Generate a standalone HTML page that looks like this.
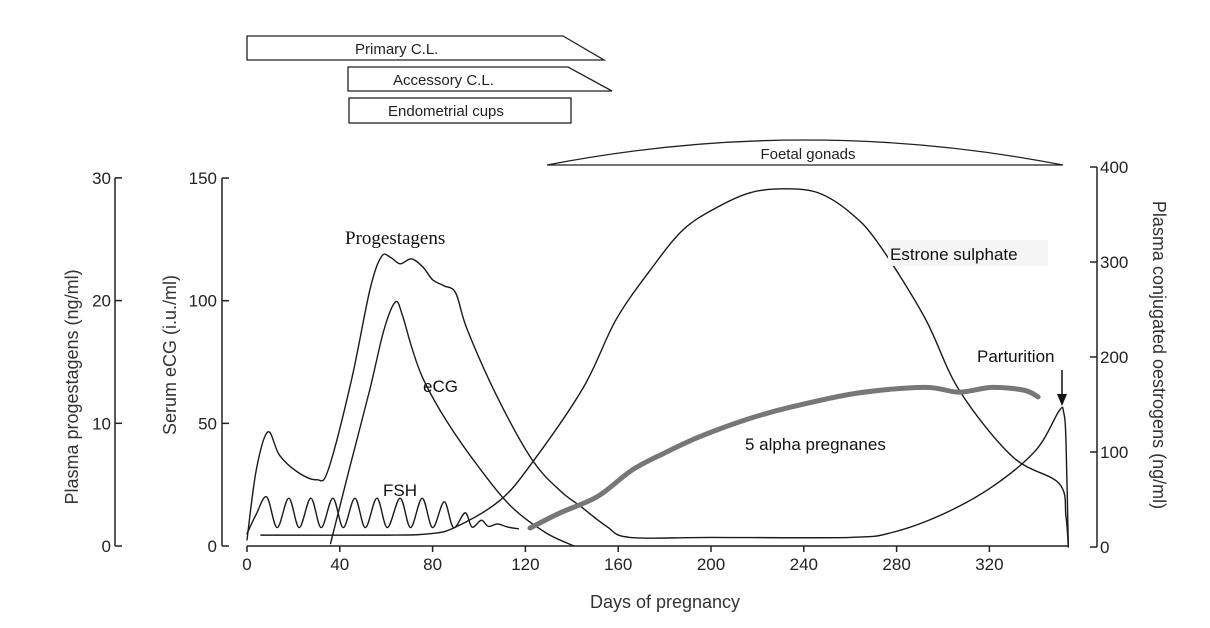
<!DOCTYPE html>
<html><head><meta charset="utf-8"><style>
html,body{margin:0;padding:0;background:#fff;}
svg{display:block;font-family:"Liberation Sans",sans-serif;}
</style></head><body>
<svg id="chart" width="1210" height="628" viewBox="0 0 1210 628">
<g fill="none" stroke="#222" stroke-width="1.3">
<polygon points="247,36 563,36 604,60 247,60"/>
<polygon points="348,67 568,67 612,91 348,91"/>
<rect x="349" y="98" width="222" height="25"/>
<path d="M547,165 Q805,115 1063,165 Z"/>
</g>
<g font-size="15" fill="#222">
<text x="355" y="54">Primary C.L.</text>
<text x="393" y="85">Accessory C.L.</text>
<text x="388" y="116">Endometrial cups</text>
<text x="808" y="159" text-anchor="middle">Foetal gonads</text>
</g>
<g id="axes" stroke="#222" stroke-width="1.5" fill="none"></g>
<g id="labels" fill="#222" font-size="17"></g>
<g id="series" fill="none"></g>
<g fill="#111">
<text x="345" y="244" font-family="Liberation Serif,serif" font-size="19">Progestagens</text>
<text x="423" y="392" font-size="17">eCG</text>
<text x="383" y="496" font-size="17">FSH</text>
<rect x="888" y="240" width="160" height="26" fill="#f5f5f5"/>
<text x="890" y="260" font-size="17">Estrone sulphate</text>
<text x="745" y="450" font-size="17">5 alpha pregnanes</text>
<text x="977" y="362" font-size="17">Parturition</text>
<line x1="1062" y1="370" x2="1062" y2="400" stroke="#111" stroke-width="1.5"/>
<polygon points="1057,394 1067,394 1062,406"/>
<text x="665" y="608" text-anchor="middle" font-size="18" fill="#333">Days of pregnancy</text>
<text transform="translate(78,387) rotate(-90)" text-anchor="middle" font-size="18" fill="#333">Plasma progestagens (ng/ml)</text>
<text transform="translate(176,355) rotate(-90)" text-anchor="middle" font-size="18" fill="#333">Serum eCG (i.u./ml)</text>
<text transform="translate(1153,355) rotate(90)" text-anchor="middle" font-size="18" fill="#333">Plasma conjugated oestrogens (ng/ml)</text>
</g>
</svg>
<script>
const xTicks=[0,40,80,120,160,200,240,280,320];
const progTicks=[0,10,20,30];
const ecgTicks=[0,50,100,150];
const oestTicks=[0,100,200,300,400];
const progDays=[0,4,9,14,22,30,35,45,53,58,62,66,71,76,80,85,90,95,108,123,135,144,155,165,200,260,278,300,321,340,350,352,353,354];
const progVals=[0.5,6.2,9.3,7.4,6.0,5.4,6.2,13.5,20.9,23.6,23.5,23.0,23.4,22.7,21.7,21.2,20.6,17.6,12.1,7.0,4.5,3.2,1.6,0.7,0.7,0.7,1.1,2.6,4.8,7.8,11.0,10.9,8.6,0];
const ecgDays=[36,44,53,59,64,67,71,76,86,100,114,129,141];
const ecgVals=[1,31,64,88,99.5,94,81,68,51,32,16,5.3,0];
const fshDays=[0,4,8.5,13,18,22.5,27.5,32,37,41.5,46.5,51,56,60.5,66,70.5,75.5,80,85,89,94,97,101,104,108,112,117];
const fshVals=[5,13,20,7.5,19.5,7.5,19.5,7.5,19.5,7.5,19.5,7.5,19.5,7.5,19.5,7.5,19.5,7.5,18,7.5,13.5,7.7,10.5,8,9,7.8,7];
const estDays=[6,60,79,90,109,123,145,159,174,188,203,217,231,246,260,272,292,307,330,350,353,354];
const estVals=[12.5,12.5,14,21,49,89,168,239,292,334,358,373,377,373,352,320,242,165,95,67,32,0];
const pregDays=[122,135,151,166,180,195,215,234,263,292,307,321,335,341];
const pregVals=[20,36,53,81,99,116,134,147,162,168,163,168,165,158];
const X=d=>247+d*2.32;
const Yp=v=>546-v*12.27;
const Ye=v=>546-v*2.453;
const Yo=v=>547-v*0.95;
const NS='http://www.w3.org/2000/svg';
function mk(t,a,parent){const e=document.createElementNS(NS,t);for(const k in a)e.setAttribute(k,a[k]);parent.appendChild(e);return e;}
function smooth(pts){let d='M'+pts[0][0]+','+pts[0][1];for(let i=0;i<pts.length-1;i++){const p0=pts[i-1]||pts[i],p1=pts[i],p2=pts[i+1],p3=pts[i+2]||p2;const t=6;d+=' C'+(p1[0]+(p2[0]-p0[0])/t)+','+(p1[1]+(p2[1]-p0[1])/t)+' '+(p2[0]-(p3[0]-p1[0])/t)+','+(p2[1]-(p3[1]-p1[1])/t)+' '+p2[0]+','+p2[1];}return d;}
const ax=document.getElementById('axes'),lb=document.getElementById('labels'),sr=document.getElementById('series');
let l=mk('line',{x1:247,y1:546,x2:1068,y2:546},ax);


xTicks.forEach(t=>{const k=mk('line',{x1:X(t),y1:546,x2:X(t),y2:552},ax);


const tx=mk('text',{x:X(t),y:570,'text-anchor':'middle'},lb);tx.textContent=t;

});
l=mk('line',{x1:115,y1:Yp(30),x2:115,y2:Yp(0)},ax);


progTicks.forEach(t=>{const k=mk('line',{x1:115,y1:Yp(t),x2:122,y2:Yp(t)},ax);


const tx=mk('text',{x:111,y:Yp(t)+6,'text-anchor':'end'},lb);tx.textContent=t;

});
l=mk('line',{x1:222,y1:Ye(150),x2:222,y2:Ye(0)},ax);


ecgTicks.forEach(t=>{const k=mk('line',{x1:222,y1:Ye(t),x2:229,y2:Ye(t)},ax);


const tx=mk('text',{x:217,y:Ye(t)+6,'text-anchor':'end'},lb);tx.textContent=t;

});
l=mk('line',{x1:1097,y1:Yo(400),x2:1097,y2:Yo(0)},ax);


oestTicks.forEach(t=>{const k=mk('line',{x1:1090,y1:Yo(t),x2:1097,y2:Yo(t)},ax);


const tx=mk('text',{x:1100,y:Yo(t)+6},lb);tx.textContent=t;

});
function series(days,vals,Y,name,stroke,w){const pts=days.map((d,i)=>[X(d),Y(vals[i])]);const p=mk('path',{d:smooth(pts),stroke:stroke,'stroke-width':w,'stroke-linejoin':'round','stroke-linecap':'round'},sr);

}
series(progDays,progVals,Yp,'progestagens-line','#1a1a1a',1.4);
series(ecgDays,ecgVals,Ye,'ecg-line','#1a1a1a',1.4);
series(fshDays,fshVals,Ye,'fsh-line','#1a1a1a',1.4);
series(estDays,estVals,Yo,'estrone-sulphate-line','#1a1a1a',1.4);
series(pregDays,pregVals,Yo,'pregnanes-line','#777',5);
</script>
</body></html>
